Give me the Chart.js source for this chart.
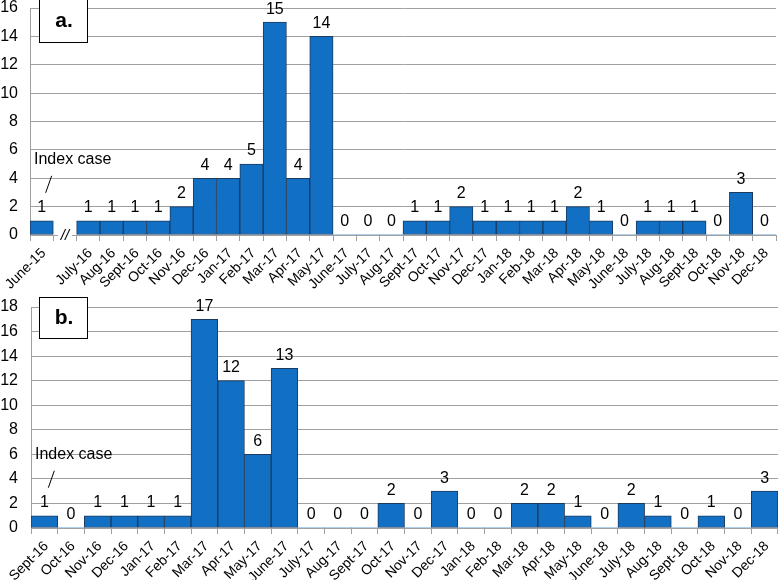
<!DOCTYPE html>
<html>
<head>
<meta charset="utf-8">
<script src="https://cdn.jsdelivr.net/npm/chart.js@4.4.1/dist/chart.umd.min.js"></script>
<style>
  html, body { margin: 0; padding: 0; background: #fff; }
  body { width: 778px; height: 580px; position: relative; overflow: hidden; }
  .wrap { position: absolute; left: 0; width: 778px; height: 290px; }
  #wa { top: 0; }
  #wb { top: 290px; }
</style>
</head>
<body>
<div class="wrap" id="wa"><canvas id="ca" width="778" height="290"></canvas></div>
<div class="wrap" id="wb"><canvas id="cb" width="778" height="290"></canvas></div>
<script>
// ---- Data: panel a ----
const catsA = ['June-15', '', 'July-16', 'Aug-16', 'Sept-16', 'Oct-16', 'Nov-16', 'Dec-16', 'Jan-17', 'Feb-17',
  'Mar-17', 'Apr-17', 'May-17', 'June-17', 'July-17', 'Aug-17', 'Sept-17', 'Oct-17', 'Nov-17', 'Dec-17',
  'Jan-18', 'Feb-18', 'Mar-18', 'Apr-18', 'May-18', 'June-18', 'July-18', 'Aug-18', 'Sept-18', 'Oct-18',
  'Nov-18', 'Dec-18'];
const casesA = [1, null, 1, 1, 1, 1, 2, 4, 4, 5,
  15, 4, 14, 0, 0, 0, 1, 1, 2, 1,
  1, 1, 1, 2, 1, 0, 1, 1, 1, 0,
  3, 0];
const ticksA = [0, 2, 4, 6, 8, 10, 12, 14, 16];

// ---- Data: panel b ----
const catsB = ['Sept-16', 'Oct-16', 'Nov-16', 'Dec-16', 'Jan-17', 'Feb-17', 'Mar-17', 'Apr-17', 'May-17', 'June-17',
  'July-17', 'Aug-17', 'Sept-17', 'Oct-17', 'Nov-17', 'Dec-17', 'Jan-18', 'Feb-18', 'Mar-18', 'Apr-18',
  'May-18', 'June-18', 'July-18', 'Aug-18', 'Sept-18', 'Oct-18', 'Nov-18', 'Dec-18'];
const casesB = [1, 0, 1, 1, 1, 1, 17, 12, 6, 13,
  0, 0, 0, 2, 0, 3, 0, 0, 2, 2,
  1, 0, 2, 1, 0, 1, 0, 3];
const ticksB = [0, 2, 4, 6, 8, 10, 12, 14, 16, 18];

const FONT = "'Liberation Sans', Arial, sans-serif";
const BAR_FILL = '#1170C4';
const BAR_EDGE = '#1B3A60';
const GRID = '#A0A0A0';

function overlayPlugin(opts) {
  return {
    id: 'overlay_' + opts.tag,
    afterDatasetsDraw(chart) {
      const ctx = chart.ctx;
      const meta = chart.getDatasetMeta(0);
      const ys = chart.scales.y;
      const xs = chart.scales.x;
      const data = chart.data.datasets[0].data;
      ctx.save();
      ctx.fillStyle = '#000';
      ctx.font = '16px ' + FONT;
      ctx.textAlign = 'center';
      ctx.textBaseline = 'middle';
      data.forEach((v, i) => {
        if (v === null || v === undefined) return;
        const x = meta.data[i].x;
        const y = ys.getPixelForValue(v) - 13;
        ctx.fillText(String(v), x, y);
      });
      // Index case annotation
      const x0 = meta.data[0].x;
      const yTop = ys.getPixelForValue(data[0]);
      ctx.textAlign = 'left';
      ctx.fillText('Index case', chart.chartArea.left + 4, yTop - 61);
      ctx.strokeStyle = '#000';
      ctx.lineWidth = 1;
      ctx.beginPath();
      ctx.moveTo(x0 + 4, yTop - 28);
      ctx.lineTo(x0 + 10, yTop - 45);
      ctx.stroke();
      // Break mark
      if (opts.breakIndex !== undefined) {
        const xb = xs.getPixelForValue(opts.breakIndex);
        const yb = ys.getPixelForValue(0);
        ctx.fillStyle = '#fff';
        ctx.fillRect(xb - 7, yb - 2, 14, 4);
        ctx.fillStyle = '#000';
        ctx.font = 'italic 15px ' + FONT;
        ctx.textAlign = 'center';
        ctx.fillText('//', xb, yb + 1);
      }
      // Panel label box
      const bx = 39, bw = 48;
      ctx.fillStyle = '#fff';
      ctx.fillRect(bx, opts.boxTop, bw, opts.boxH);
      ctx.strokeStyle = '#000';
      ctx.lineWidth = 1;
      ctx.strokeRect(bx + 0.5, opts.boxTop + 0.5, bw, opts.boxH);
      ctx.fillStyle = '#000';
      ctx.font = 'bold 21px ' + FONT;
      ctx.textAlign = 'center';
      ctx.fillText(opts.tag, bx + bw / 2 + 1, opts.boxTop + opts.boxH / 2 + 1);
      ctx.restore();
    }
  };
}

function makeChart(id, cats, vals, ticks, ymax, xHeight, pad, opts) {
  return new Chart(document.getElementById(id), {
    type: 'bar',
    data: {
      labels: cats,
      datasets: [{
        data: vals,
        backgroundColor: BAR_FILL,
        borderColor: BAR_EDGE,
        borderWidth: (c) => (c.raw ? 1 : 0),
        borderSkipped: false,
        barPercentage: 1.0,
        categoryPercentage: 1.0
      }]
    },
    options: {
      responsive: false,
      animation: false,
      events: [],
      layout: { padding: pad },
      plugins: { legend: { display: false }, tooltip: { enabled: false } },
      scales: {
        x: {
          offset: true,
          grid: { display: true, drawOnChartArea: false, drawTicks: true, tickLength: 6, color: GRID, offset: true },
          border: { display: true, color: GRID, width: 1 },
          ticks: {
            autoSkip: false, maxRotation: 45, minRotation: 45, padding: 4, labelOffset: 2,
            color: '#000', font: { family: FONT, size: 14 }
          },
          afterFit: (s) => { s.height = xHeight; s.paddingLeft = 0; s.paddingRight = 0; s.paddingTop = 0; s.paddingBottom = 0; }
        },
        y: {
          min: 0, max: ymax,
          afterBuildTicks: (s) => { s.ticks = ticks.map(v => ({ value: v })); },
          grid: { color: GRID, drawTicks: false, lineWidth: 1 },
          border: { display: true, color: GRID, width: 1 },
          ticks: { padding: opts.yPad, color: '#000', font: { family: FONT, size: 16 } },
          afterFit: (s) => { s.width = opts.yWidth; s.paddingTop = 0; s.paddingBottom = 0; s.paddingLeft = 0; s.paddingRight = 0; }
        }
      }
    },
    plugins: [overlayPlugin(opts)]
  });
}

makeChart('ca', catsA, casesA, ticksA, 16, 55, { top: 8, right: 2, left: 0, bottom: 0 },
  { tag: 'a.', breakIndex: 1, boxTop: -1, boxH: 43, yWidth: 30, yPad: 12 });
makeChart('cb', catsB, casesB, ticksB, 18, 52, { top: 17, right: 0, left: 0, bottom: 0 },
  { tag: 'b.', boxTop: 7, boxH: 41, yWidth: 31, yPad: 13 });
</script>
</body>
</html>
